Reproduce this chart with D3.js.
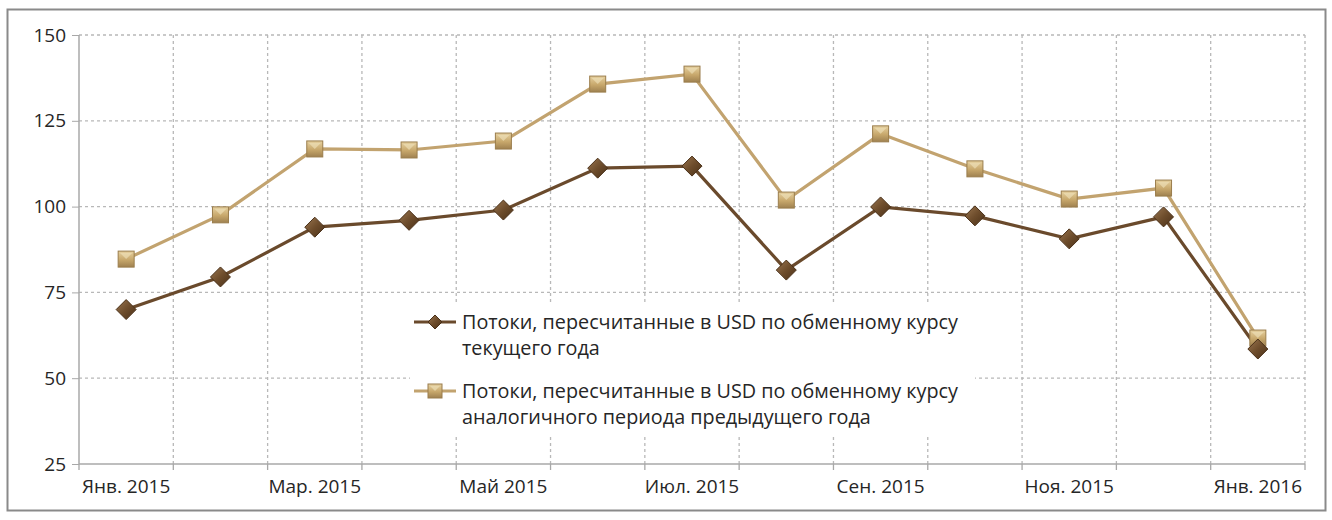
<!DOCTYPE html>
<html><head><meta charset="utf-8">
<script src="https://cdn.jsdelivr.net/npm/d3@7"></script>
<style>body{margin:0;background:#fff}svg{display:block}text{font-family:"Open Sans",sans-serif}</style>
</head><body><svg id="c" width="1332" height="520"></svg>
<script>
const months = ["Янв. 2015","Фев. 2015","Мар. 2015","Апр. 2015","Май 2015","Июн. 2015","Июл. 2015","Авг. 2015","Сен. 2015","Окт. 2015","Ноя. 2015","Дек. 2015","Янв. 2016"];
const tickLabels = ["Янв. 2015","Мар. 2015","Май 2015","Июл. 2015","Сен. 2015","Ноя. 2015","Янв. 2016"];
const seriesCurrent = [70, 79.5, 94, 96, 99, 111.2, 111.8, 81.5, 99.9, 97.3, 90.6, 97, 58.5];
const seriesPrevRate = [84.7, 97.6, 116.8, 116.5, 119.1, 135.7, 138.6, 101.9, 121.2, 111, 102.2, 105.4, 61.7];
const yTicks = [25, 50, 75, 100, 125, 150];
const legendLabels = [
  ["Потоки, пересчитанные в USD по обменному курсу", "текущего года"],
  ["Потоки, пересчитанные в USD по обменному курсу", "аналогичного периода предыдущего года"]
];

const svg = d3.select("#c");
const defs = svg.append("defs");
const g1 = defs.append("linearGradient").attr("id","gd").attr("x1",0).attr("y1",0).attr("x2",1).attr("y2",1);
g1.append("stop").attr("offset","0%").attr("stop-color","#9a7650");
g1.append("stop").attr("offset","50%").attr("stop-color","#6e4d2c");
g1.append("stop").attr("offset","100%").attr("stop-color","#4a3018");
const g2 = defs.append("linearGradient").attr("id","gs").attr("x1",0).attr("y1",0).attr("x2",0).attr("y2",1);
g2.append("stop").attr("offset","0%").attr("stop-color","#e6d1a0");
g2.append("stop").attr("offset","55%").attr("stop-color","#c7a76b");
g2.append("stop").attr("offset","100%").attr("stop-color","#9f8150");

// outer frame
svg.append("rect").attr("x",7.5).attr("y",9.5).attr("width",1318).attr("height",501)
  .attr("fill","#fff").attr("stroke","#8a8a8a").attr("stroke-width",2);

const L = 79, R = 1305, T = 35, B = 464;
const x = d3.scaleBand().domain(months).range([L, R]);
const y = d3.scaleLinear().domain([25, 150]).range([B, T]);
const cx = m => x(m) + x.bandwidth()/2;

// horizontal grid
svg.append("g").selectAll("line").data(yTicks.filter(v=>v>25)).join("line")
  .attr("x1",L).attr("x2",R).attr("y1",d=>y(d)).attr("y2",d=>y(d))
  .attr("stroke","#b8b8b8").attr("stroke-width",1.3).attr("stroke-dasharray","3,3");
// vertical grid at band boundaries
const bounds = months.map(m => x(m) + x.bandwidth());
svg.append("g").selectAll("line").data(bounds).join("line")
  .attr("x1",d=>d).attr("x2",d=>d).attr("y1",T).attr("y2",B)
  .attr("stroke","#b8b8b8").attr("stroke-width",1.3).attr("stroke-dasharray","3,3");

// y axis
const yAxis = d3.axisLeft(y).tickValues(yTicks).tickSize(7).tickPadding(6);
const ya = svg.append("g").attr("transform",`translate(${L},0)`).call(yAxis);
ya.select(".domain").attr("stroke","#a8a8a8").attr("stroke-width",1.5).attr("d",`M0,${T}V${B}`);
ya.selectAll(".tick line").attr("stroke","#a8a8a8");
ya.selectAll("text").attr("font-size",19).attr("fill","#262626").attr("font-family","'Open Sans',sans-serif");

// x axis
const xAxis = d3.axisBottom(x).tickValues(tickLabels).tickSize(0).tickPadding(16);
const xa = svg.append("g").attr("transform",`translate(0,${B})`).call(xAxis);
xa.select(".domain").attr("stroke","#a8a8a8").attr("stroke-width",1.5).attr("d",`M${L},0H${R}`);
xa.selectAll("text").attr("font-size",19).attr("fill","#262626").attr("font-family","'Open Sans',sans-serif");
svg.append("g").selectAll("line").data([L, ...bounds]).join("line")
  .attr("x1",d=>d).attr("x2",d=>d).attr("y1",B).attr("y2",B+6)
  .attr("stroke","#a8a8a8").attr("stroke-width",1.3);

// legend background
svg.append("rect").attr("x",410).attr("y",302).attr("width",565).attr("height",135).attr("fill","#fff");

const line = d3.line().x((d,i)=>cx(months[i])).y(d=>y(d));
svg.append("path").datum(seriesPrevRate).attr("d",line).attr("fill","none").attr("stroke","#c2a36f").attr("stroke-width",3.2);
svg.append("path").datum(seriesCurrent).attr("d",line).attr("fill","none").attr("stroke","#6a4a2c").attr("stroke-width",3.2);

function diamond(sel, px, py, s){
  sel.append("path").attr("d",`M${px},${py-s}L${px+s},${py}L${px},${py+s}L${px-s},${py}Z`)
    .attr("fill","url(#gd)").attr("stroke","#4a3018").attr("stroke-width",1);
}
function square(sel, px, py, s){
  sel.append("rect").attr("x",px-s).attr("y",py-s).attr("width",2*s).attr("height",2*s)
    .attr("fill","url(#gs)").attr("stroke","#9a7d4c").attr("stroke-width",1);
  sel.append("path").attr("d",`M${px-s+2},${py-s+2}L${px},${py}L${px+s-2},${py-s+2}Z`).attr("fill","#f0e2bd").attr("opacity",0.6);
}
const mg = svg.append("g");
seriesPrevRate.forEach((v,i)=>square(mg, cx(months[i]), y(v), 8));
seriesCurrent.forEach((v,i)=>diamond(mg, cx(months[i]), y(v), 10));

// legend
const lg = svg.append("g");
const ly = [322, 391];
const cols = ["#6a4a2c","#c2a36f"];
ly.forEach((yy,i)=>{
  lg.append("line").attr("x1",414).attr("x2",456).attr("y1",yy).attr("y2",yy).attr("stroke",cols[i]).attr("stroke-width",3.2);
  if(i===0) diamond(lg, 435, yy, 7); else square(lg, 435, yy, 7);
  legendLabels[i].forEach((t,j)=>{
    lg.append("text").attr("x",462).attr("y",yy+7+j*26).attr("font-size",19.8).attr("fill","#262626").text(t);
  });
});
</script></body></html>
